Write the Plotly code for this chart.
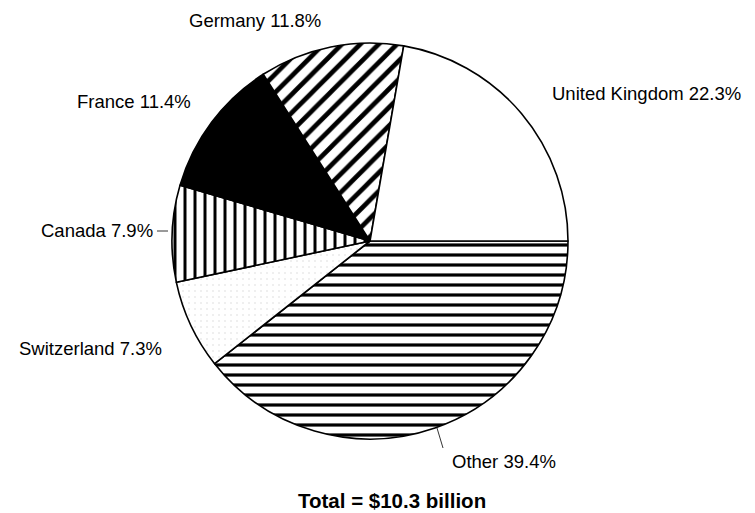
import plotly.graph_objects as go

# Shares by country, in clockwise order starting at 3 o'clock
countries = ["Other", "Switzerland", "Canada", "France", "Germany", "United Kingdom"]
shares = [39.4, 7.3, 7.9, 11.4, 11.8, 22.3]
total_label = "Total = $10.3 billion"

# Fill styling per slice
fill_colors = ["white", "white", "white", "black", "white", "white"]
pattern_shapes = ["-", ".", "|", "", "/", ""]
pattern_sizes = [10, 6, 10, 10, 13, 10]
pattern_solidity = [0.32, 0.05, 0.3, 0.3, 0.36, 0.3]
pattern_fg = ["black", "#d8d8d8", "black", "black", "black", "black"]

W, H = 755, 513
L, R, T, B = 172, 187, 43, 74
PW, PH = W - L - R, H - T - B
FONT = "Liberation Sans, Arial, sans-serif"


def px(x):
    return (x - L) / PW


def py(y):
    return (H - B - y) / PH


fig = go.Figure(
    go.Pie(
        labels=countries,
        values=shares,
        sort=False,
        direction="clockwise",
        rotation=90,
        textinfo="none",
        hoverinfo="label+percent",
        showlegend=False,
        marker=dict(
            colors=fill_colors,
            line=dict(color="black", width=1.6),
            pattern=dict(
                shape=pattern_shapes,
                size=pattern_sizes,
                solidity=pattern_solidity,
                fgcolor=pattern_fg,
                fgopacity=1,
                fillmode="overlay",
            ),
        ),
        domain=dict(x=[0, 1], y=[0, 1]),
    )
)

# Slice labels placed around the pie
label_pos = {
    "Germany": (255, 21, "center"),
    "United Kingdom": (646, 93, "center"),
    "France": (134, 101, "center"),
    "Canada": (155, 231, "right"),
    "Switzerland": (90, 348, "center"),
    "Other": (450, 461, "left"),
}
annotations = []
for name, val in zip(countries, shares):
    x, y, anchor = label_pos[name]
    annotations.append(
        dict(
            text=f"{name} {val}%",
            x=px(x), y=py(y), xref="paper", yref="paper",
            xanchor=anchor, yanchor="middle", showarrow=False,
            font=dict(family=FONT, size=18.5, color="black"),
        )
    )
annotations.append(
    dict(
        text=f"<b>{total_label}</b>",
        x=px(392), y=py(500), xref="paper", yref="paper",
        xanchor="center", yanchor="middle", showarrow=False,
        font=dict(family=FONT, size=20.5, color="black"),
    )
)

# Leader lines for the labels that sit away from their slice
leaders = [((157, 231), (168, 231)), ((437, 428), (443, 448))]
shapes = [
    dict(type="line", xref="paper", yref="paper",
         x0=px(a[0]), y0=py(a[1]), x1=px(b[0]), y1=py(b[1]),
         line=dict(color="black", width=0.8))
    for a, b in leaders
]

fig.update_layout(
    width=W, height=H,
    margin=dict(l=L, r=R, t=T, b=B),
    paper_bgcolor="white", plot_bgcolor="white",
    annotations=annotations, shapes=shapes,
    font=dict(family=FONT),
)

fig.write_html("out.html")
